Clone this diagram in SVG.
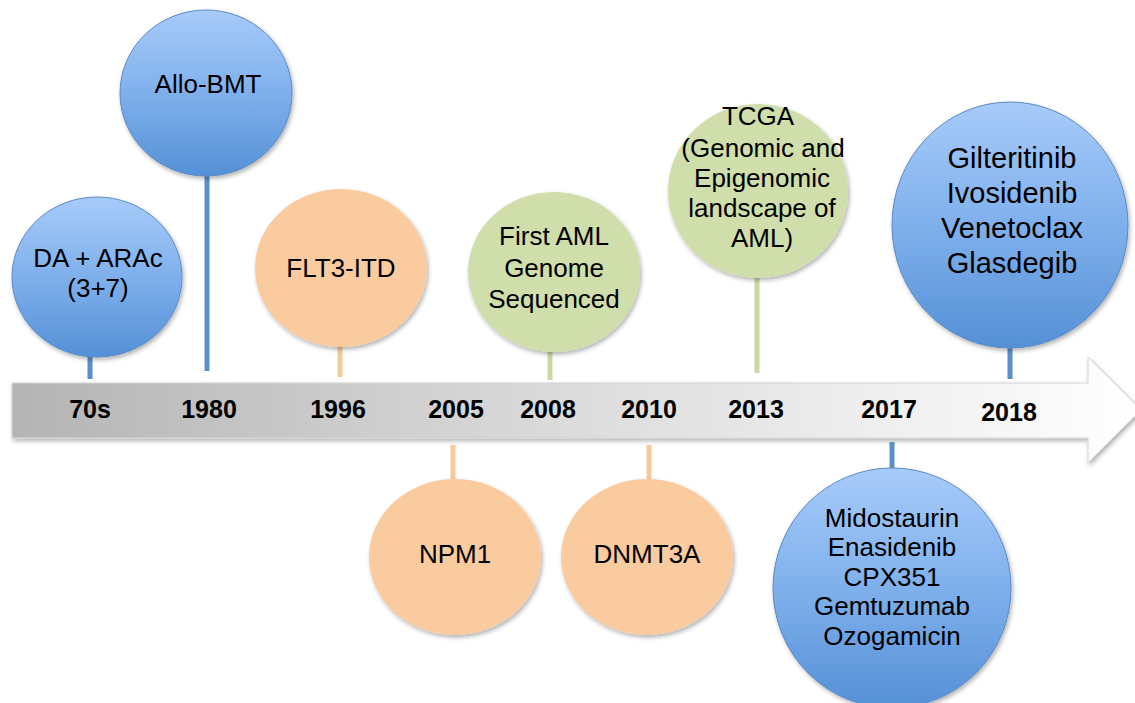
<svg xmlns="http://www.w3.org/2000/svg" width="1135" height="703" viewBox="0 0 1135 703">
<defs>
<linearGradient id="gArrow" x1="0" y1="0" x2="1" y2="0">
<stop offset="0" stop-color="#b4b4b4"/>
<stop offset="0.5" stop-color="#dcdcdc"/>
<stop offset="1" stop-color="#ffffff"/>
</linearGradient>
<linearGradient id="gBlue" x1="0" y1="0" x2="0" y2="1">
<stop offset="0" stop-color="#a7cbfa"/>
<stop offset="0.5" stop-color="#7fb0ec"/>
<stop offset="1" stop-color="#5590d6"/>
</linearGradient>
<filter id="sh" x="-20%" y="-20%" width="140%" height="140%">
<feDropShadow dx="1.5" dy="2.5" stdDeviation="2" flood-color="#000" flood-opacity="0.3"/>
</filter>
</defs>
<style>
.t{font-family:"Liberation Sans",Arial,sans-serif;font-size:26px;fill:#000;text-anchor:middle}
.big{font-size:29px}
.yr{font-family:"Liberation Sans",Arial,sans-serif;font-size:25px;font-weight:bold;fill:#000;text-anchor:middle}
.blue{fill:url(#gBlue);stroke:#5a8ac4;stroke-width:1}
.peach{fill:#facb9f}
.green{fill:#cfdeab}
.sb{stroke:#5b8fca;stroke-width:5}
.sp{stroke:#f8c89b;stroke-width:5}
.sg{stroke:#c8d9a4;stroke-width:5}
</style>
<rect width="1135" height="703" fill="#fff"/>
<g id="timeline">
<polygon points="12,383 1088,383 1088,357 1141,410 1088,463 1088,438 12,438" fill="url(#gArrow)" stroke="#d4d4d4" stroke-width="1" filter="url(#sh)"/>
<text class="yr" x="90" y="418">70s</text>
<text class="yr" x="209" y="418">1980</text>
<text class="yr" x="338" y="418">1996</text>
<text class="yr" x="456" y="418">2005</text>
<text class="yr" x="548" y="418">2008</text>
<text class="yr" x="649" y="418">2010</text>
<text class="yr" x="756" y="418">2013</text>
<text class="yr" x="889" y="418">2017</text>
<text class="yr" x="1009" y="421">2018</text>
</g>
<g id="connectors">
<line class="sb" x1="90" y1="355" x2="90" y2="379"/>
<line class="sb" x1="207" y1="174" x2="207" y2="371"/>
<line class="sp" x1="340" y1="345" x2="340" y2="377"/>
<line class="sg" x1="550" y1="350" x2="550" y2="380"/>
<line class="sg" x1="757" y1="276" x2="757" y2="373"/>
<line class="sb" x1="1010" y1="345" x2="1010" y2="379"/>
<line class="sp" x1="453" y1="445" x2="453" y2="480"/>
<line class="sp" x1="649" y1="445" x2="649" y2="480"/>
<line class="sb" x1="892" y1="442" x2="892" y2="470"/>
</g>
<g id="n70s">
<ellipse class="blue" cx="97" cy="277" rx="85" ry="80" filter="url(#sh)"/>
<text class="t" x="98" y="267">DA + ARAc</text>
<text class="t" x="98" y="297">(3+7)</text>
</g>
<g id="n1980">
<ellipse class="blue" cx="206" cy="93" rx="86" ry="83" filter="url(#sh)"/>
<text class="t" x="208" y="93">Allo-BMT</text>
</g>
<g id="n1996">
<ellipse class="peach" cx="341" cy="268" rx="86" ry="79" filter="url(#sh)"/>
<text class="t" x="341" y="277">FLT3-ITD</text>
</g>
<g id="n2008">
<ellipse class="green" cx="554" cy="272" rx="86" ry="80" filter="url(#sh)"/>
<text class="t" x="554" y="245">First AML</text>
<text class="t" x="554" y="277">Genome</text>
<text class="t" x="554" y="308">Sequenced</text>
</g>
<g id="n2013">
<ellipse class="green" cx="758" cy="191" rx="90" ry="87" filter="url(#sh)"/>
<text class="t" x="758" y="125">TCGA</text>
<text class="t" x="763" y="157">(Genomic and</text>
<text class="t" x="762" y="187">Epigenomic</text>
<text class="t" x="762" y="217">landscape of</text>
<text class="t" x="762" y="247">AML)</text>
</g>
<g id="n2018">
<ellipse class="blue" cx="1010" cy="225" rx="118" ry="123" filter="url(#sh)"/>
<text class="t big" x="1012" y="168">Gilteritinib</text>
<text class="t big" x="1012" y="203">Ivosidenib</text>
<text class="t big" x="1012" y="238">Venetoclax</text>
<text class="t big" x="1012" y="273">Glasdegib</text>
</g>
<g id="n2005">
<ellipse class="peach" cx="455" cy="557" rx="86" ry="78" filter="url(#sh)"/>
<text class="t" x="455" y="563">NPM1</text>
</g>
<g id="n2010">
<ellipse class="peach" cx="647" cy="557" rx="86" ry="78" filter="url(#sh)"/>
<text class="t" x="647" y="563">DNMT3A</text>
</g>
<g id="n2017">
<ellipse class="blue" cx="892" cy="588" rx="119" ry="120" filter="url(#sh)"/>
<text class="t" x="892" y="527">Midostaurin</text>
<text class="t" x="892" y="556">Enasidenib</text>
<text class="t" x="892" y="586">CPX351</text>
<text class="t" x="892" y="615">Gemtuzumab</text>
<text class="t" x="892" y="645">Ozogamicin</text>
</g>
</svg>
